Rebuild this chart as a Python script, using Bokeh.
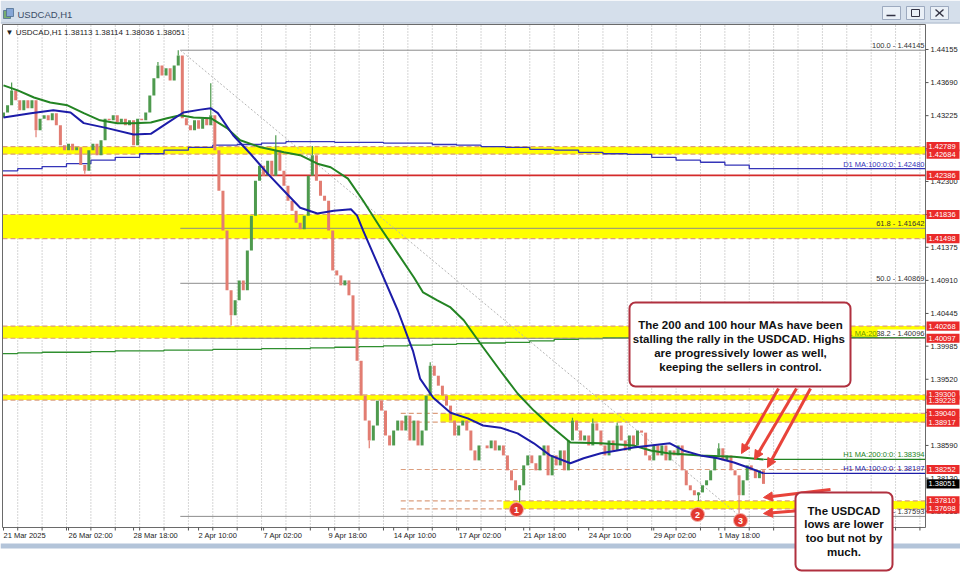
from bokeh.plotting import figure
from bokeh.models import (Range1d, ColumnDataSource, LabelSet, BoxAnnotation, Arrow, NormalHead)
from bokeh.embed import file_html
from bokeh.resources import INLINE
from bokeh.core.properties import value

# ---------------- data ----------------
symbol = "USDCAD,H1"
last_ohlc = "1.38113 1.38114 1.38036 1.38051"

time_labels = ["21 Mar 2025", "26 Mar 02:00", "28 Mar 18:00", "2 Apr 10:00", "7 Apr 02:00",
               "9 Apr 18:00", "14 Apr 10:00", "17 Apr 02:00", "21 Apr 18:00", "24 Apr 10:00",
               "29 Apr 02:00", "1 May 18:00"]
time_label_bars = [0, 64, 128, 192, 256, 320, 384, 448, 512, 576, 640, 704]
day_start_bars = list(range(14, 907, 24))

price_ticks = [1.44155, 1.43690, 1.43225, 1.42760, 1.42300, 1.41835, 1.41375, 1.40910,
               1.40445, 1.39985, 1.39520, 1.39055, 1.38590, 1.38130, 1.37665]

# 4-hour candles (close of each), open = previous close
first_open = 1.4320
closes = [
    1.4327, 1.4337, 1.4358, 1.4344, 1.4330, 1.4344, 1.4333, 1.4344, 1.4302, 1.4318,
    1.4323, 1.4316, 1.4326, 1.4309, 1.4281, 1.4274, 1.4283, 1.4274, 1.4278, 1.4253,
    1.4245, 1.4274, 1.4283, 1.4267, 1.4288, 1.4318, 1.4316, 1.4323, 1.4313, 1.4318,
    1.4309, 1.4316, 1.4281, 1.4318, 1.4316, 1.4327, 1.4351, 1.4375, 1.4393, 1.4379,
    1.4389, 1.4372, 1.4393, 1.4407, 1.4319, 1.4309, 1.4302, 1.4316, 1.4304, 1.4318,
    1.4309, 1.4323, 1.4274, 1.4217, 1.4161, 1.4077, 1.4042, 1.4063, 1.4091, 1.4077,
    1.4133, 1.4182, 1.4231, 1.4252, 1.4238, 1.4259, 1.4238, 1.4274, 1.4245, 1.4224,
    1.4203, 1.4189, 1.4172, 1.4163, 1.4182, 1.4238, 1.4267, 1.4231, 1.4210, 1.4203,
    1.4161, 1.4105, 1.4098, 1.4084, 1.4091, 1.4070, 1.4021, 1.3978, 1.3929, 1.3894,
    1.3866, 1.3887, 1.3922, 1.3908, 1.3873, 1.3859, 1.3880, 1.3894, 1.3880, 1.3901,
    1.3866, 1.3894, 1.3859, 1.3880, 1.3929, 1.3971, 1.3957, 1.3943, 1.3929, 1.3915,
    1.3894, 1.3873, 1.3887, 1.3894, 1.3880, 1.3852, 1.3838, 1.3859, 1.3859, 1.3855,
    1.3866, 1.3852, 1.3859, 1.3845, 1.3824, 1.3810, 1.3796, 1.3803, 1.3831, 1.3845,
    1.3834, 1.3824, 1.3845, 1.3859, 1.3817, 1.3845, 1.3831, 1.3852, 1.3824, 1.3866,
    1.3894, 1.3880, 1.3866, 1.3873, 1.3859, 1.3890, 1.3880, 1.3859, 1.3845, 1.3866,
    1.3852, 1.3887, 1.3866, 1.3852, 1.3873, 1.3859, 1.3880, 1.3877, 1.3845, 1.3838,
    1.3859, 1.3845, 1.3859, 1.3838, 1.3852, 1.3845, 1.3859, 1.3824, 1.3803, 1.3796,
    1.3789, 1.3793, 1.3803, 1.3810, 1.3824, 1.3845, 1.3855, 1.3838, 1.3845, 1.3824,
    1.3817, 1.3789, 1.3810, 1.3831, 1.3824, 1.3813, 1.3824, 1.3805,
]
candle_hours = 4
spike_idx = [2, 8, 20, 38, 43, 51, 56, 67, 76, 90, 105, 127, 140, 145, 151, 171, 176, 181]
spike_price = [1.4369, 1.4292, 1.4241, 1.4398, 1.44145, 1.4368, 1.4028, 1.4295, 1.4280,
               1.3855, 1.3976, 1.3779, 1.3898, 1.3897, 1.3891, 1.3781, 1.3862, 1.37593]

# H1 moving averages
ma100_bars = [0, 27, 49, 66, 79, 102, 128, 145, 161, 177, 194, 204, 211, 226, 243, 260, 276,
              292, 309, 325, 342, 348, 354, 371, 388, 403, 410, 423, 440, 457, 472, 489, 506,
              522, 538, 558, 571, 588, 604, 620, 637, 656, 669, 686, 703, 719, 735, 748]
ma100_vals = [1.4320, 1.4326, 1.4330, 1.4327, 1.4312, 1.4305, 1.4296, 1.4297, 1.4312, 1.4327,
              1.4331, 1.4333, 1.4326, 1.4295, 1.4269, 1.4241, 1.4217, 1.4193, 1.4185, 1.4189,
              1.4191, 1.4182, 1.4161, 1.4105, 1.4049, 1.3992, 1.3953, 1.3926, 1.3905, 1.3897,
              1.3887, 1.3884, 1.3876, 1.3862, 1.3845, 1.3834, 1.3841, 1.3848, 1.3852, 1.3856,
              1.3859, 1.3862, 1.3852, 1.3845, 1.3841, 1.3835, 1.3827, 1.38197]
ma200_bars = [0, 14, 30, 46, 63, 79, 95, 112, 128, 145, 161, 174, 187, 204, 220, 233, 253,
              276, 292, 309, 322, 339, 354, 371, 388, 404, 413, 427, 440, 453, 472, 489, 506,
              522, 538, 558, 588, 620, 637, 654, 686, 719, 748]
ma200_vals = [1.4365, 1.4358, 1.4348, 1.4341, 1.4337, 1.4326, 1.4316, 1.4312, 1.4312, 1.4313,
              1.4319, 1.4323, 1.4320, 1.4319, 1.4305, 1.4288, 1.4278, 1.4271, 1.4267, 1.4255,
              1.4250, 1.4234, 1.4203, 1.4165, 1.4129, 1.4095, 1.4074, 1.4063, 1.4053, 1.4035,
              1.3997, 1.3964, 1.3932, 1.3908, 1.3887, 1.3863, 1.3862, 1.3859, 1.3852, 1.3848,
              1.3845, 1.3843, 1.38394]

# daily moving averages (one value per trading day)
d1_ma100 = [1.4245, 1.4248, 1.4251, 1.4255, 1.4260, 1.4264, 1.4269, 1.4274, 1.4278, 1.4281,
            1.4282, 1.4284, 1.4286, 1.4286, 1.4285, 1.4285, 1.4284, 1.4284, 1.4282, 1.4281,
            1.4279, 1.4278, 1.4275, 1.4274, 1.4271, 1.4269, 1.4268, 1.4264, 1.4260, 1.4257,
            1.4253, 1.42480]
d1_ma200 = [1.3988, 1.3989, 1.3990, 1.3990, 1.3991, 1.3992, 1.3992, 1.3993, 1.3993, 1.3994,
            1.3994, 1.3995, 1.3995, 1.3996, 1.3997, 1.3998, 1.3999, 1.4000, 1.4001, 1.4002,
            1.4003, 1.4004, 1.4006, 1.4008, 1.4009, 1.4010, 1.4010, 1.4011, 1.4011, 1.4011,
            1.4011, 1.40107]

# support / resistance zones
zone_top = [1.42789, 1.41836, 1.40268, 1.39300, 1.39040, 1.37810]
zone_bot = [1.42684, 1.41498, 1.40097, 1.39228, 1.38917, 1.37698]
zone_start = [-1, -1, -1, -1, 430, 492]
zone_dash_start = [-1, -1, -1, -1, 391, 391]
red_level = 1.42386
dash_level = 1.38252

# fibonacci retracement
fib_names = ["100.0", "61.8", "50.0", "38.2", "0.0"]
fib_prices = [1.44145, 1.41642, 1.40869, 1.40096, 1.37593]
fib_start_bar = 174
fib_end_bar = 725

# price tags on the axis
tag_prices = [1.42684, 1.42789, 1.42386, 1.41836, 1.41498, 1.40268, 1.40097, 1.39228,
              1.39300, 1.39040, 1.38917, 1.38252, 1.37698, 1.37810]
last_price = 1.38051

box1_lines = ["The 200 and 100 hour MAs have been", "stalling the rally in the USDCAD.  Highs",
              "are progressively lower as well,", "keeping the sellers in control."]
box2_lines = ["The USDCAD", "lows are lower", "too but not by", "much."]
low_marks = ["1", "2", "3"]

# ---------------- scale helpers (screen pixel of the 960x572 page -> data) ----------------
W, H = 960, 572
PX_PER_BAR = 1.016
PX_PER_UNIT = 7115.0


def bx(xr):
    return (xr - 3) / PX_PER_BAR


def py(yr):
    return 1.44155 - (yr - 49) / PX_PER_UNIT


XA, XB = bx(0), bx(W)
YT, YB = py(0), py(H)
CH_L, CH_R = bx(2), bx(925)
CH_T, CH_B = py(24), py(527)
FONT = "Liberation Sans"
AX = "7.5px"

p = figure(width=W, height=H, x_range=Range1d(XA, XB), y_range=Range1d(YB, YT),
           x_axis_location=None, y_axis_location=None, toolbar_location=None,
           output_backend="svg", min_border=0, title=None)
p.grid.visible = False
p.outline_line_color = None
p.background_fill_color = "white"
p.border_fill_color = "white"

# ---- window chrome ----
p.quad(left=[XA], right=[XB], bottom=[py(22)], top=[YT], fill_color="#d5dfeb", line_color=None)
p.segment(x0=[XA], y0=[py(22.5)], x1=[XB], y1=[py(22.5)], line_color="#9aabc2", line_width=1)
p.quad(left=[bx(3), bx(6)], right=[bx(10), bx(13)], bottom=[py(18), py(16)], top=[py(10), py(8)],
       fill_color=["#76ad6f", "#86a6d6"], line_color="#4f6f90", line_width=0.8)
p.text(x=[bx(17)], y=[py(14)], text=[symbol], text_font=value(FONT), text_font_size="9.5px",
       text_baseline="middle", text_color="#3a4c68")
p.quad(left=[bx(882), bx(906), bx(930)], right=[bx(900), bx(924), bx(948)],
       bottom=[py(19)] * 3, top=[py(6)] * 3, fill_color="#eaf0f7", line_color="#8c9bb3", line_width=0.8)
p.segment(x0=[bx(886)], y0=[py(15)], x1=[bx(895)], y1=[py(15)], line_color="#334", line_width=1.5)
p.quad(left=[bx(911)], right=[bx(919)], bottom=[py(16)], top=[py(9)], fill_color=None,
       line_color="#334", line_width=1)
p.segment(x0=[bx(935), bx(935)], y0=[py(9), py(16)], x1=[bx(943), bx(943)], y1=[py(16), py(9)],
          line_color="#334", line_width=1.4)
p.quad(left=[XA], right=[XB], bottom=[py(548)], top=[py(543)], fill_color="#b3c4d9", line_color=None)

# ---- grid ----
p.segment(x0=day_start_bars, y0=[CH_B] * len(day_start_bars), x1=day_start_bars,
          y1=[CH_T] * len(day_start_bars), line_color="#ababab", line_dash="1 2", line_width=1)

# ---- zones and levels ----
zl = ColumnDataSource(dict(left=zone_start, right=[CH_R] * len(zone_top), top=zone_top, bottom=zone_bot))
p.quad(left="left", right="right", top="top", bottom="bottom", source=zl,
       fill_color="#ffff00", line_color=None)
dash_x0 = zone_dash_start + zone_dash_start + [391]
dash_y = zone_top + zone_bot + [dash_level]
p.segment(x0=dash_x0, y0=dash_y, x1=[CH_R] * len(dash_y), y1=dash_y,
          line_color="#dc9e7e", line_width=1.2, line_dash="5 3")
p.segment(x0=[CH_L], y0=[red_level], x1=[CH_R], y1=[red_level], line_color="#d42a2a", line_width=1.6)

# ---- daily MAs ----
day_edges = [CH_L] + day_start_bars[:len(d1_ma100) - 1]
p.step(x=day_edges + [CH_R], y=d1_ma100 + [d1_ma100[-1]], mode="after", line_color="#3434b8", line_width=1.3)
p.step(x=day_edges + [CH_R], y=d1_ma200 + [d1_ma200[-1]], mode="after", line_color="#2f8f2f", line_width=1.3)

# ---- fibonacci ----
p.segment(x0=[fib_start_bar] * len(fib_prices), y0=fib_prices, x1=[CH_R] * len(fib_prices), y1=fib_prices,
          line_color="#8c8c8c", line_width=1)
p.line(x=[fib_start_bar, fib_end_bar], y=[fib_prices[0], fib_prices[-1]], line_color="#b4b4b4",
       line_dash="2 2", line_width=1)

# ---- candles ----
n = len(closes)
cbars = [i * candle_hours for i in range(n)]
opens = [first_open] + closes[:-1]
bull, bear = "#4e9a4e", "#e27d72"
ccol = [bull if c >= o else bear for o, c in zip(opens, closes)]
csrc = ColumnDataSource(dict(x=cbars, o=opens, c=closes, col=ccol))
sp_src = ColumnDataSource(dict(x=[cbars[i] for i in spike_idx], c=[closes[i] for i in spike_idx],
                               s=spike_price, col=[ccol[i] for i in spike_idx]))
p.segment(x0="x", y0="c", x1="x", y1="s", line_color="col", line_width=1.2, source=sp_src)
p.segment(x0="x", y0="o", x1="x", y1="c", line_color="col", line_width=3, source=csrc)

# ---- H1 MAs ----
p.line(x=ma200_bars, y=ma200_vals, line_color="#238423", line_width=2)
p.line(x=ma100_bars, y=ma100_vals, line_color="#1c1ca8", line_width=2)
p.segment(x0=[ma200_bars[-1], ma100_bars[-1]], y0=[ma200_vals[-1], ma100_vals[-1]],
          x1=[CH_R, CH_R], y1=[ma200_vals[-1], ma100_vals[-1]],
          line_color=["#238423", "#1c1ca8"], line_width=1.2)

# ---- in-chart texts ----
p.text(x=[CH_R], y=[d1_ma200[-1]], text=[f"D1 MA:200:0:0: {d1_ma200[-1]:.5f}"], text_align="right",
       text_baseline="bottom", x_offset=-1, text_font=value(FONT), text_font_size=AX, text_color="#6a9a00")
p.quad(left=[bx(877)], right=[CH_R], bottom=[py(336.5)], top=[py(329)], fill_color="white", line_color=None)
fib_txt = [f"{n_} - {v:.5f}" for n_, v in zip(fib_names, fib_prices)]
p.text(x=[CH_R] * len(fib_prices), y=fib_prices, text=fib_txt, text_align="right", text_baseline="bottom",
       x_offset=-1, text_font=value(FONT), text_font_size=AX, text_color="#333333")
ma_txt = [f"D1 MA:100:0:0: {d1_ma100[-1]:.5f}", f"H1 MA:200:0:0: {ma200_vals[-1]:.5f}",
          f"H1 MA:100:0:0: {ma100_vals[-1]:.5f}"]
p.text(x=[CH_R] * 3, y=[d1_ma100[-1], ma200_vals[-1], ma100_vals[-1]], text=ma_txt, text_align="right",
       text_baseline="bottom", x_offset=-1, text_font=value(FONT), text_font_size=AX,
       text_color=["#3434b8", "#238423", "#1c1ca8"])
p.text(x=[bx(5)], y=[py(32)], text=["\u25bc " + symbol + "  " + last_ohlc], text_baseline="middle",
       text_font=value(FONT), text_font_size="8px", text_color="#222222")

# numbered lows
p.scatter(x=[bx(516), bx(697), bx(740)], y=[py(509), py(514), py(520)], size=14,
          fill_color="#e2392f", line_color="#f2b2aa", line_width=1)
p.text(x=[bx(516), bx(697), bx(740)], y=[py(509), py(514), py(520)], text=low_marks,
       text_align="center", text_baseline="middle", text_font=value(FONT), text_font_size="9px",
       text_font_style="bold", text_color="white")

# ---- chart frame and axes ----
p.quad(left=[CH_L], right=[CH_R], bottom=[CH_B], top=[CH_T], fill_color=None,
       line_color="#6a6a6a", line_width=1)
xt = time_label_bars + day_start_bars
p.segment(x0=xt, y0=[CH_B] * len(xt), x1=xt, y1=[py(530)] * len(xt), line_color="#555555", line_width=1)
p.text(x=time_label_bars, y=[py(535)] * len(time_label_bars), text=time_labels, text_align="left",
       text_baseline="middle", text_font=value(FONT), text_font_size=AX, text_color="#222222")
p.segment(x0=[CH_R] * len(price_ticks), y0=price_ticks, x1=[bx(928)] * len(price_ticks), y1=price_ticks,
          line_color="#555555", line_width=1)
p.text(x=[bx(930)] * len(price_ticks), y=price_ticks, text=[f"{v:.5f}" for v in price_ticks],
       text_align="left", text_baseline="middle", text_font=value(FONT), text_font_size=AX,
       text_color="#222222")

# price tags
half = 4.6 / PX_PER_UNIT
tag_all = tag_prices + [last_price]
tag_col = ["#ea2a2a"] * len(tag_prices) + ["#000000"]
p.quad(left=[bx(926)] * len(tag_all), right=[bx(959)] * len(tag_all),
       bottom=[v - half for v in tag_all], top=[v + half for v in tag_all], fill_color=tag_col, line_color=None)
p.text(x=[bx(928)] * len(tag_all), y=tag_all, text=[f"{v:.5f}" for v in tag_all], text_align="left",
       text_baseline="middle", text_font=value(FONT), text_font_size=AX, text_color="white")

# ---- arrows ----
RED = "#e8433a"
arrows = [((778, 388), (741, 453)), ((796, 388), (754, 459)), ((810, 388), (767, 467)),
          ((830, 489), (763, 497)), ((800, 510), (763, 513))]
for (xs, ys), (xe, ye) in arrows:
    p.add_layout(Arrow(end=NormalHead(size=9, fill_color=RED, line_color=RED),
                       x_start=bx(xs), y_start=py(ys), x_end=bx(xe), y_end=py(ye),
                       line_color=RED, line_width=3))

# ---- text boxes ----
BOXC = "#b0303f"
p.add_layout(BoxAnnotation(left=bx(629), right=bx(850), top=py(302), bottom=py(386),
                           fill_color="white", fill_alpha=1, line_color=BOXC, line_alpha=1,
                           line_width=2, border_radius=6))
p.add_layout(BoxAnnotation(left=bx(795), right=bx(892), top=py(492), bottom=py(570),
                           fill_color="white", fill_alpha=1, line_color=BOXC, line_alpha=1,
                           line_width=2, border_radius=6))
b1 = ColumnDataSource(dict(x=[bx(740)] * 4, y=[py(324), py(338), py(352), py(366)], text=box1_lines))
p.add_layout(LabelSet(x="x", y="y", text="text", source=b1, text_align="center", text_baseline="middle",
                      text_font=value(FONT), text_font_size="11.5px", text_font_style="bold",
                      text_color="#111111"))
b2 = ColumnDataSource(dict(x=[bx(843.5)] * 4, y=[py(510), py(523.5), py(537.5), py(551)], text=box2_lines))
p.add_layout(LabelSet(x="x", y="y", text="text", source=b2, text_align="center", text_baseline="middle",
                      text_font=value(FONT), text_font_size="11.5px", text_font_style="bold",
                      text_color="#111111"))

open("out.html", "w").write(file_html(p, INLINE))
